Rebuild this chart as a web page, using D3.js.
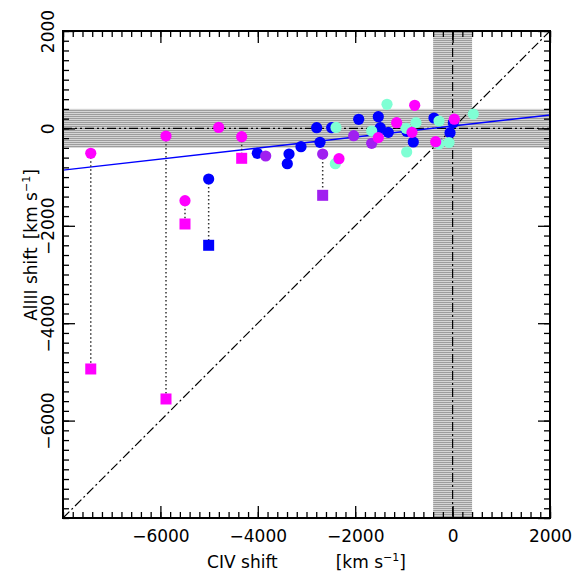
<!DOCTYPE html>
<html><head><meta charset="utf-8">
<script src="https://cdn.jsdelivr.net/npm/d3@7"></script>
<style>body{margin:0;background:#fff}svg{display:block}text{font-family:"DejaVu Sans",sans-serif;fill:#000}</style>
</head><body><svg id="c" width="581" height="581"></svg>
<script>
// ---- data ----
const magentaCircles = [[-7430,-510],[-5885,-156],[-5495,-1485],[-4803,20],[-4331,-170],[-2333,-622],[-1526,-190],[-1149,117],[-778,474],[-834,-81],[-347,-273],[35,189]];
const magentaSquares = [[-7430,-4940],[-5885,-5556],[-5495,-1963],[-4331,-614]];
const blueCircles = [[-5009,-1039],[-4010,-511],[-3359,-526],[-3394,-725],[-3113,-376],[-2791,15],[-2723,-285],[-2483,15],[-1928,187],[-1526,240],[-1485,15],[-1320,-81],[-943,-60],[-807,-279],[-382,214],[14,117],[-53,-88]];
const blueSquares = [[-5009,-2400]];
const purpleCircles = [[-3838,-567],[-2668,-526],[-2031,-150],[-1661,-306]];
const purpleSquares = [[-2668,-1374]];
const aquaCircles = [[-2394,20],[-2408,-725],[-1347,495],[-1661,-53],[-957,2],[-943,-485],[-752,118],[-279,152],[-279,-320],[-74,-290],[425,296]];
const connectors = [[-7430,-510,-4940],[-5885,-156,-5556],[-5495,-1485,-1963],[-5009,-1039,-2400],[-4331,-170,-614],[-2668,-526,-1374]];
const fitLine = [[-8000,-856],[2000,275]];
const band = 400;
const domainX = [-8000,2000], domainY = [-8000,2000];
const majorTicks = [-8000,-6000,-4000,-2000,0,2000];
const minorTicks = d3.range(-8000,2001,200);
const xLabel = ["CIV shift","[km s","\u22121","]"];
const yLabel = ["AlIII shift","[km s","\u22121","]"];

// ---- drawing ----
const svg = d3.select("#c");
const L=63,R=550,T=31,B=518;
const x = d3.scaleLinear(domainX,[L,R]);
const y = d3.scaleLinear(domainY,[B,T]);

const defs = svg.append("defs");
const pat = defs.append("pattern").attr("id","hatch").attr("patternUnits","userSpaceOnUse").attr("width",4).attr("height",2);
pat.append("rect").attr("width",4).attr("height",2).attr("fill","#d4d4d4");
pat.append("rect").attr("width",4).attr("height",1).attr("fill","#9c9c9c");

// bands
svg.append("rect").attr("x",L).attr("width",R-L).attr("y",y(band)).attr("height",y(-band)-y(band)).attr("fill","url(#hatch)");
svg.append("rect").attr("x",x(-band)).attr("width",x(band)-x(-band)).attr("y",T).attr("height",B-T).attr("fill","url(#hatch)");

// reference lines
svg.append("line").attr("x1",L).attr("x2",R).attr("y1",y(0)).attr("y2",y(0)).attr("stroke","#000").attr("stroke-width",1.2).attr("stroke-dasharray","9,3,2,3,2,3");
svg.append("line").attr("x1",x(0)).attr("x2",x(0)).attr("y1",T).attr("y2",B).attr("stroke","#000").attr("stroke-width",1.2).attr("stroke-dasharray","9,3,2,3");
svg.append("line").attr("x1",x(domainX[0])).attr("y1",y(domainX[0])).attr("x2",x(domainX[1])).attr("y2",y(domainX[1])).attr("stroke","#000").attr("stroke-width",1.2).attr("stroke-dasharray","9,3,2,3");

// fit line
svg.append("path").attr("d",d3.line().x(d=>x(d[0])).y(d=>y(d[1]))(fitLine)).attr("stroke","#0000ff").attr("stroke-width",1.4).attr("fill","none");

// connectors
svg.append("g").selectAll("line").data(connectors).join("line")
  .attr("x1",d=>x(d[0])).attr("x2",d=>x(d[0])).attr("y1",d=>y(d[1])).attr("y2",d=>y(d[2]))
  .attr("stroke","#333").attr("stroke-width",1.5).attr("stroke-dasharray","1.5,2.5");

const r=5.6, s=11;
function circles(data,color){
  svg.append("g").selectAll("circle").data(data).join("circle")
    .attr("cx",d=>x(d[0])).attr("cy",d=>y(d[1])).attr("r",r).attr("fill",color);
}
function squares(data,color){
  svg.append("g").selectAll("rect").data(data).join("rect")
    .attr("x",d=>x(d[0])-s/2).attr("y",d=>y(d[1])-s/2).attr("width",s).attr("height",s).attr("fill",color);
}
circles(blueCircles,"#0000ff");
circles(purpleCircles,"#a020f0");
circles(aquaCircles,"#7fffd4");
circles(magentaCircles,"#ff00ff");
squares(blueSquares,"#0000ff");
squares(purpleSquares,"#a020f0");
squares(magentaSquares,"#ff00ff");

// axes
const fmt = d3.format("d");
function styleAxis(g){ g.select(".domain").remove(); g.selectAll("line").attr("stroke","#000").attr("stroke-width",1.3); }
svg.append("g").attr("transform",`translate(0,${B})`).call(d3.axisBottom(x).tickValues(majorTicks.slice(1)).tickSize(-12).tickPadding(12).tickFormat(fmt)).call(styleAxis)
  .selectAll("text").attr("font-size",17).attr("font-family","DejaVu Sans");
svg.append("g").attr("transform",`translate(0,${B})`).call(d3.axisBottom(x).tickValues(minorTicks).tickSize(-6).tickFormat("")).call(styleAxis);
svg.append("g").attr("transform",`translate(0,${T})`).call(d3.axisTop(x).tickValues(majorTicks).tickSize(-12).tickFormat("")).call(styleAxis);
svg.append("g").attr("transform",`translate(0,${T})`).call(d3.axisTop(x).tickValues(minorTicks).tickSize(-6).tickFormat("")).call(styleAxis);
const ly = svg.append("g").attr("transform",`translate(${L},0)`).call(d3.axisLeft(y).tickValues(majorTicks.slice(1)).tickSize(-12).tickFormat(fmt)).call(styleAxis);
ly.selectAll("text").attr("font-size",17).attr("font-family","DejaVu Sans").attr("text-anchor","middle").attr("x",null).attr("dy",null).attr("transform","translate(-9,0) rotate(-90)");
svg.append("g").attr("transform",`translate(${L},0)`).call(d3.axisLeft(y).tickValues(minorTicks).tickSize(-6).tickFormat("")).call(styleAxis);
svg.append("g").attr("transform",`translate(${R},0)`).call(d3.axisRight(y).tickValues(majorTicks).tickSize(-12).tickFormat("")).call(styleAxis);
svg.append("g").attr("transform",`translate(${R},0)`).call(d3.axisRight(y).tickValues(minorTicks).tickSize(-6).tickFormat("")).call(styleAxis);

// frame
svg.append("rect").attr("x",L).attr("y",T).attr("width",R-L).attr("height",B-T).attr("fill","none").attr("stroke","#000").attr("stroke-width",2);

// labels
function label(parts, tx, gap){
  const t = svg.append("text").attr("font-size",17).attr("text-anchor","middle").attr("transform",tx);
  t.append("tspan").text(parts[0]);
  t.append("tspan").attr("dx",gap).text(parts[1]);
  t.append("tspan").attr("dy",-7).attr("font-size",11).text(parts[2]);
  t.append("tspan").attr("dy",7).text(parts[3]);
}
label(xLabel,`translate(${(L+R)/2},568)`,58);
label(yLabel,`translate(37,245) rotate(-90)`,8);
</script></body></html>
